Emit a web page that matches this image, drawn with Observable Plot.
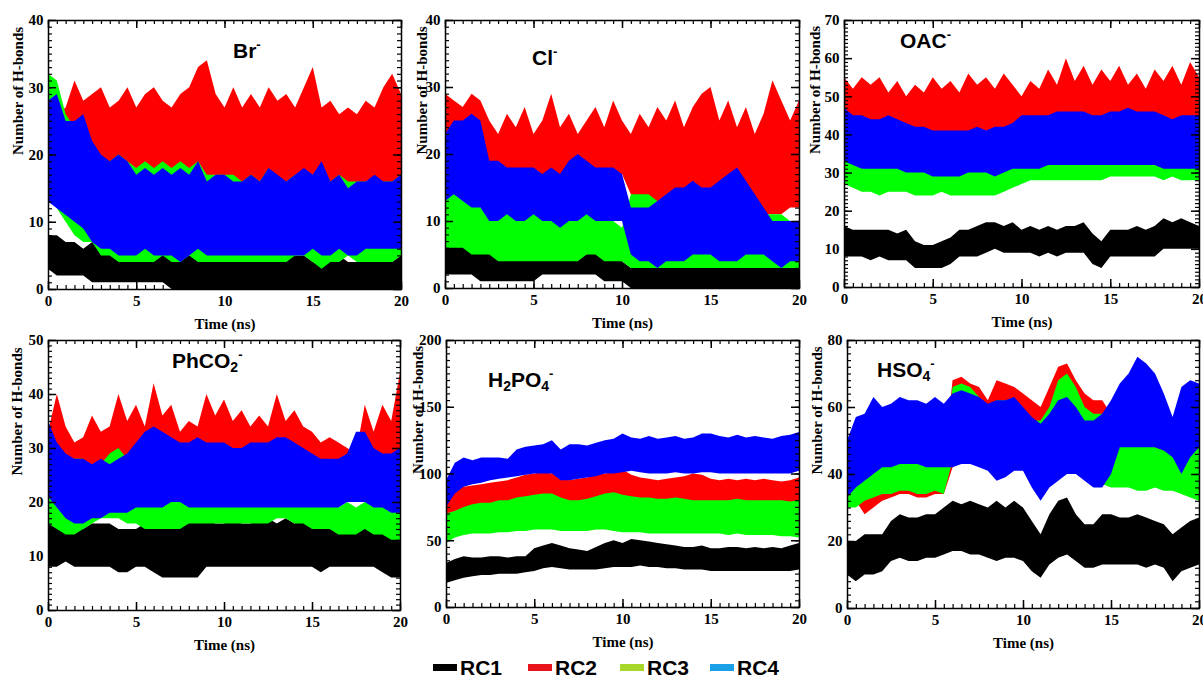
<!DOCTYPE html>
<html><head><meta charset="utf-8">
<script src="https://cdn.jsdelivr.net/npm/d3@7"></script>
<script src="https://cdn.jsdelivr.net/npm/@observablehq/plot@0.6"></script>
<style>
body{margin:0;background:#fff;}
#root{position:relative;width:1203px;height:681px;overflow:hidden;background:#fff;}
.panel{position:absolute;}
.title{position:absolute;font-family:"Liberation Sans",Arial,sans-serif;font-weight:bold;font-size:21px;line-height:1;color:#000;white-space:nowrap;}
.title sup{font-size:13px;vertical-align:baseline;position:relative;top:-9px;}
.title sub{font-size:14px;vertical-align:baseline;position:relative;top:4px;}
.legsw{position:absolute;height:7px;width:24px;}
.legtx{position:absolute;font-family:"Liberation Sans",Arial,sans-serif;font-weight:bold;font-size:21px;line-height:1;color:#000;}
</style></head>
<body><div id="root"></div>
<script>
// ---------- data ----------
const timeNs = [0,0.5,1,1.5,2,2.5,3,3.5,4,4.5,5,5.5,6,6.5,7,7.5,8,8.5,9,9.5,10,10.5,11,11.5,12,12.5,13,13.5,14,14.5,15,15.5,16,16.5,17,17.5,18,18.5,19,19.5,20];
const seriesNames = ["RC1","RC2","RC3","RC4"];
const xTicks = [0,5,10,15,20];

// Br-
const brRC1Hi = [8,8,7,7,6,7,6,6,6,6, 6,6,5,6,5,6,5,5,5,5, 5,5,4,5,5,5,4,5,5,5, 4,6,5,5,4,4,4,5,5,4, 5];
const brRC1Lo = [3,2,2,2,2,1,1,1,1,1, 1,1,1,1,0,0,0,0,0,0, 0,0,0,0,0,0,0,0,0,0, 0,0,0,0,0,0,0,0,0,0, 0];
const brRC2Hi = [24,26,27,31,28,29,30,27,28,30, 27,29,30,28,27,29,30,33,34,29, 27,30,27,29,27,30,28,29,27,30, 33,27,28,26,27,26,28,27,30,32, 29];
const brRC2Lo = [14,14,15,15,16,17,17,17,16,16, 16,16,16,16,16,16,16,16,17,16, 15,15,15,15,15,15,15,15,15,15, 15,15,15,14,14,15,15,15,15,15, 15];
const brRC3Hi = [32,31,26,24,24,20,19,19,20,19, 18,19,18,19,18,19,18,19,17,17, 17,17,16,17,16,18,16,16,17,17, 17,18,16,17,16,16,16,16,16,16, 17];
const brRC3Lo = [20,12,10,8,7,7,5,5,4,4, 4,4,4,5,4,4,5,4,4,4, 4,4,4,4,4,4,4,4,5,5, 4,3,4,4,5,4,4,4,4,4, 5];
const brRC4Hi = [28,29,25,25,26,22,20,19,20,19, 17,18,17,18,17,18,17,19,16,17, 17,16,16,17,16,18,17,16,17,18, 17,19,16,17,15,16,16,17,16,16, 17];
const brRC4Lo = [13,12,11,10,9,7,6,6,5,5, 5,6,5,5,5,4,5,6,5,5, 5,5,5,5,5,5,5,5,5,5, 6,5,5,6,5,5,6,6,6,6, 6];
const brYTicks = [0,10,20,30,40];

// Cl-
const clRC1Hi = [6,7,7,7,6,6,6,5,5,5, 5,6,6,5,6,6,5,6,5,5, 4,3,3,3,3,3,3,3,3,3, 4,3,3,3,3,3,3,3,3,3, 3];
const clRC1Lo = [2,2,2,2,1,1,1,1,1,1, 1,2,2,2,2,2,2,2,1,1, 1,0,0,0,0,0,0,0,0,0, 0,0,0,0,0,0,0,0,0,0, 0];
const clRC2Hi = [29,28,27,29,28,25,23,26,24,27, 23,25,29,24,26,23,25,27,24,28, 25,23,26,24,27,25,28,24,27,29, 30,25,28,24,27,23,26,31,28,25, 28];
const clRC2Lo = [20,20,20,20,19,18,18,17,17,17, 17,17,17,17,17,17,17,17,17,17, 17,14,13,13,13,13,13,13,13,13, 13,13,13,13,12,12,11,11,11,12, 12];
const clRC3Hi = [15,15,14,13,12,11,11,11,11,11, 11,11,11,11,11,11,11,11,10,10, 9,14,14,14,13,12,13,13,13,13, 12,12,13,14,13,12,11,11,11,10, 10];
const clRC3Lo = [6,6,6,5,5,5,4,4,4,4, 4,4,4,4,4,4,5,5,4,4, 4,3,3,3,3,3,3,3,3,3, 3,3,3,3,3,3,3,3,3,3, 3];
const clRC4Hi = [23,25,25,26,25,19,19,18,18,18, 18,17,18,17,19,20,19,18,18,18, 17,12,12,12,13,14,15,15,16,15, 15,16,17,18,16,14,12,10,10,10, 10];
const clRC4Lo = [13,14,13,12,12,10,10,11,10,10, 11,10,10,9,10,10,11,10,10,10, 10,5,4,4,3,4,4,4,5,5, 5,4,4,4,5,5,5,4,3,4, 4];
const clYTicks = [0,10,20,30,40];

// OAC-
const oacRC1Hi = [16,15,15,15,15,15,14,15,12,11, 11,12,13,15,15,16,17,17,16,17, 15,16,15,16,15,16,16,17,14,12, 15,15,15,16,15,16,18,17,18,17, 16];
const oacRC1Lo = [8,8,8,7,8,7,7,7,5,5, 5,5,6,8,8,8,9,10,9,9, 9,9,8,9,8,9,9,9,6,5, 8,8,8,8,8,8,10,10,10,10, 10];
const oacRC2Hi = [55,52,55,53,55,51,54,50,53,51, 55,52,54,51,56,53,55,52,56,53, 50,54,52,57,53,60,54,58,53,57, 54,58,53,56,52,57,54,58,53,59, 55];
const oacRC2Lo = [45,44,44,43,43,42,42,42,40,39, 39,39,40,40,39,39,41,40,42,41, 42,44,44,44,45,45,45,45,44,44, 44,44,45,45,44,43,42,42,42,43, 44];
const oacRC3Hi = [36,35,34,34,33,34,33,33,33,32, 33,33,32,32,32,32,32,32,33,33, 34,34,34,34,35,35,35,35,35,36, 36,36,36,36,35,35,35,35,35,35, 35];
const oacRC3Lo = [27,26,25,25,24,25,25,25,24,24, 24,25,24,24,24,24,24,24,25,26, 27,28,28,28,28,28,28,28,28,28, 29,29,29,29,29,29,28,29,28,28, 28];
const oacRC4Hi = [47,45,45,44,44,45,44,43,42,42, 41,41,41,41,41,42,41,42,42,43, 45,45,45,45,46,46,46,46,45,45, 46,46,47,46,46,46,45,44,45,45, 45];
const oacRC4Lo = [33,32,31,31,31,31,31,30,30,30, 29,29,29,29,30,30,30,29,30,31, 31,31,31,32,32,32,32,32,32,32, 32,32,32,32,32,32,31,31,31,31, 31];
const oacYTicks = [0,10,20,30,40,50,60,70];

// PhCO2-
const phRC1Hi = [16,17,16,16,15,16,16,16,15,15, 15,16,16,17,16,17,16,17,17,16, 16,17,16,16,17,17,16,17,16,17, 16,16,17,16,16,16,15,16,15,14, 13];
const phRC1Lo = [8,8,9,8,8,8,8,8,7,7, 8,8,7,6,6,6,6,6,8,8, 8,8,8,8,8,8,8,8,8,8, 8,7,8,8,8,8,8,8,7,6, 6];
const phRC2Hi = [33,40,34,31,32,36,33,34,40,35, 38,34,42,36,38,33,35,34,40,36, 39,35,37,34,36,34,40,35,37,34, 33,31,32,31,30,29,38,33,38,35, 44];
const phRC2Lo = [28,27,26,25,24,25,26,26,27,28, 28,28,29,28,28,28,28,28,28,28, 28,28,28,28,28,28,28,28,28,28, 27,27,27,27,27,27,28,28,28,28, 28];
const phRC3Hi = [25,22,24,28,28,26,27,29,30,28, 24,23,25,24,23,22,21,21,22,21, 20,20,20,21,21,21,22,22,22,22, 21,21,20,19,20,19,20,21,21,20, 20];
const phRC3Lo = [16,15,14,14,15,16,17,17,17,16, 16,15,15,15,15,15,16,16,16,16, 16,16,16,16,16,16,17,17,16,16, 15,15,15,14,14,14,15,14,14,13, 13];
const phRC4Hi = [35,31,29,28,28,27,28,27,28,29, 31,33,34,33,32,31,31,32,31,31, 31,30,30,31,31,31,32,32,31,30, 29,28,28,28,29,33,33,30,29,29, 30];
const phRC4Lo = [21,19,17,16,16,17,17,18,18,18, 19,19,19,19,20,20,19,19,19,19, 19,19,19,19,19,19,19,19,19,19, 19,19,19,19,20,20,20,19,19,18, 18];
const phYTicks = [0,10,20,30,40,50];

// H2PO4-
const hpRC1Hi = [33,36,38,37,37,38,38,37,38,38, 44,46,48,46,44,43,42,45,48,50, 48,51,50,49,48,47,46,45,45,46, 44,44,45,45,44,45,44,45,44,46, 48];
const hpRC1Lo = [18,20,22,23,24,24,25,25,25,26, 27,29,30,29,28,28,28,28,29,30, 30,30,31,30,30,29,29,28,28,28, 27,27,27,27,27,27,27,27,27,27, 28];
const hpRC2Hi = [85,88,90,91,92,93,94,95,97,99, 100,101,100,97,95,96,97,99,100,101, 103,99,97,96,95,96,97,98,100,99, 96,95,96,95,96,95,96,95,94,95, 97];
const hpRC2Lo = [68,72,73,74,75,76,77,78,79,80, 80,80,80,78,78,78,79,80,80,79, 78,77,76,75,75,74,74,74,73,73, 72,72,72,72,72,72,72,72,72,72, 72];
const hpRC3Hi = [70,72,75,77,78,78,80,80,82,83, 84,85,85,82,80,80,81,83,85,86, 84,83,82,82,81,81,82,81,80,80, 80,80,80,81,80,80,80,80,80,79, 80];
const hpRC3Lo = [48,52,54,55,55,55,56,56,57,57, 58,58,58,57,57,57,57,58,58,57, 56,56,56,55,55,55,55,55,55,55, 55,55,54,55,54,54,54,54,53,53, 52];
const hpRC4Hi = [95,108,112,110,112,112,112,111,118,120, 121,122,125,118,122,122,121,123,125,126, 130,127,126,128,126,127,128,126,127,130, 130,128,127,129,127,128,127,126,128,129, 131];
const hpRC4Lo = [75,85,90,92,93,95,96,97,98,99, 100,100,100,95,95,96,97,98,100,100, 101,102,101,100,100,100,101,100,100,101, 101,100,100,100,100,100,100,100,100,100, 102];
const hpYTicks = [0,50,100,150,200];

// HSO4-
const hsRC1Hi = [20,20,22,22,22,26,28,27,27,28, 28,30,32,31,32,31,30,32,30,32, 30,26,22,28,32,33,28,25,25,28, 28,27,27,28,27,26,25,22,24,26, 27];
const hsRC1Lo = [10,8,10,10,11,14,15,14,14,15, 15,16,17,17,16,16,15,14,15,15, 14,11,9,13,15,16,14,12,12,13, 13,13,13,13,12,13,12,8,11,12, 13];
const hsRC2Hi = [40,42,40,44,42,40,40,42,42,42, 44,44,68,69,67,66,62,68,67,66, 64,62,60,66,72,73,68,64,62,62, 58,54,55,55,55,55,54,55,56,54, 53];
const hsRC2Lo = [30,32,28,30,32,33,34,34,33,33, 34,34,42,44,45,44,42,40,42,44, 44,38,36,40,42,44,44,42,40,40, 40,40,40,40,40,40,40,40,40,40, 40];
const hsRC3Hi = [45,44,45,47,46,44,45,46,45,44, 45,45,66,67,66,63,60,62,62,61, 58,56,56,60,68,70,66,60,58,58, 50,50,49,48,50,48,47,48,50,46, 48];
const hsRC3Lo = [30,30,32,33,34,34,35,35,34,34, 35,34,44,45,46,45,44,42,43,45, 44,38,34,38,40,42,42,40,38,37, 36,36,36,35,35,36,35,35,34,33, 32];
const hsRC4Hi = [50,57,58,63,60,61,63,62,62,61, 63,61,64,65,64,63,61,62,62,63, 60,57,55,58,62,63,60,56,56,58, 62,67,70,75,73,70,64,57,66,68, 67];
const hsRC4Lo = [33,36,38,40,42,42,43,43,43,42, 42,42,42,43,43,42,41,38,39,41, 41,36,32,36,38,40,40,38,36,36, 40,48,48,48,48,48,47,45,40,45, 48];
const hsYTicks = [0,20,40,60,80];

const seriesColors = ["#000000","#ff0000","#00ff00","#0000ff"];
const legendColors = ["#000000","#e8141c","#a6d72a","#1aa0e6"];

// ---------- layout ----------
const ML = 50, MR = 10, MT = 20, MB = 46;
const panels = [
  {title:["Br","","-"], lo:[brRC1Lo,brRC2Lo,brRC3Lo,brRC4Lo], hi:[brRC1Hi,brRC2Hi,brRC3Hi,brRC4Hi], yTicks:brYTicks, fx0:48, fx1:401, fy0:20, fy1:289, tx:233, ty:40, labDx:-30},
  {title:["Cl","","-"], lo:[clRC1Lo,clRC2Lo,clRC3Lo,clRC4Lo], hi:[clRC1Hi,clRC2Hi,clRC3Hi,clRC4Hi], yTicks:clYTicks, fx0:445, fx1:799, fy0:20, fy1:288, tx:532, ty:47, labDx:-23},
  {title:["OAC","","-"], lo:[oacRC1Lo,oacRC2Lo,oacRC3Lo,oacRC4Lo], hi:[oacRC1Hi,oacRC2Hi,oacRC3Hi,oacRC4Hi], yTicks:oacYTicks, fx0:844, fx1:1199, fy0:20, fy1:287, tx:900, ty:30, labDx:-29},
  {title:["PhCO","2","-"], lo:[phRC1Lo,phRC2Lo,phRC3Lo,phRC4Lo], hi:[phRC1Hi,phRC2Hi,phRC3Hi,phRC4Hi], yTicks:phYTicks, fx0:48, fx1:400, fy0:340, fy1:610, tx:172, ty:350, labDx:-31},
  {title:["H","2","PO","4","-"], lo:[hpRC1Lo,hpRC2Lo,hpRC3Lo,hpRC4Lo], hi:[hpRC1Hi,hpRC2Hi,hpRC3Hi,hpRC4Hi], yTicks:hpYTicks, fx0:446, fx1:799, fy0:340, fy1:607, tx:488, ty:369, labDx:-28},
  {title:["HSO","4","-"], lo:[hsRC1Lo,hsRC2Lo,hsRC3Lo,hsRC4Lo], hi:[hsRC1Hi,hsRC2Hi,hsRC3Hi,hsRC4Hi], yTicks:hsYTicks, fx0:847, fx1:1199, fy0:340, fy1:608, tx:877, ty:359, labDx:-30}
];

const root = document.getElementById("root");

function titleHTML(parts){
  let h = "";
  for (let i = 0; i < parts.length - 1; i++) {
    if (!parts[i]) continue;
    h += (i % 2 === 0) ? parts[i] : "<sub>" + parts[i] + "</sub>";
  }
  return h + "<sup>" + parts[parts.length - 1] + "</sup>";
}

panels.forEach(p => {
  const ymax = p.yTicks[p.yTicks.length - 1];
  const yStep = p.yTicks[1] - p.yTicks[0];
  const yMinor = d3.range(0, ymax + 1e-9, yStep / 10);
  const xMinor = d3.range(0, 20 + 1e-9, 0.5);
  const fw = p.fx1 - p.fx0, fh = p.fy1 - p.fy0;
  const minorLen = 4, majorLen = 8;
  const marks = [];
  seriesNames.forEach((name, k) => {
    const rows = timeNs.map((t, i) => ({t, lo: p.lo[k][i], hi: p.hi[k][i], series: name}));
    marks.push(Plot.areaY(rows, {x: "t", y1: "lo", y2: "hi", fill: seriesColors[k], curve: "linear"}));
  });
  marks.push(
    // inward ticks on all four sides
    Plot.tickX(xMinor, {x: d => d, insetTop: fh - minorLen, stroke: "#000", strokeWidth: 1.2}),
    Plot.tickX(xMinor, {x: d => d, insetBottom: fh - minorLen, stroke: "#000", strokeWidth: 1.2}),
    Plot.tickX(xTicks, {x: d => d, insetTop: fh - majorLen, stroke: "#000", strokeWidth: 1.5}),
    Plot.tickX(xTicks, {x: d => d, insetBottom: fh - majorLen, stroke: "#000", strokeWidth: 1.5}),
    Plot.tickY(yMinor, {y: d => d, insetRight: fw - minorLen, stroke: "#000", strokeWidth: 1.2}),
    Plot.tickY(yMinor, {y: d => d, insetLeft: fw - minorLen, stroke: "#000", strokeWidth: 1.2}),
    Plot.tickY(p.yTicks, {y: d => d, insetRight: fw - majorLen, stroke: "#000", strokeWidth: 1.5}),
    Plot.tickY(p.yTicks, {y: d => d, insetLeft: fw - majorLen, stroke: "#000", strokeWidth: 1.5}),
    Plot.axisX(xTicks, {anchor: "bottom", tickSize: 0, tickPadding: 6, tickFormat: d => d, label: null}),
    Plot.axisY(p.yTicks, {anchor: "left", tickSize: 0, tickPadding: 5, tickFormat: d => d, label: null}),
    Plot.frame({stroke: "#000", strokeWidth: 1.5}),
    Plot.text(["Time (ns)"], {frameAnchor: "bottom", dy: 39, text: d => d, fontSize: 15, fontWeight: "bold"}),
    Plot.text(["Number of H-bonds"], {frameAnchor: "left", dx: p.labDx, rotate: -90, text: d => d, fontSize: 15, fontWeight: "bold"})
  );
  const W = fw + ML + MR, H = fh + MT + MB;
  const svg = Plot.plot({
    width: W, height: H,
    marginLeft: ML, marginRight: MR, marginTop: MT, marginBottom: MB,
    x: {domain: [0, 20]},
    y: {domain: [0, ymax]},
    style: {fontFamily: "'Liberation Serif','Times New Roman',serif", fontSize: "15px", fontWeight: "bold", background: "transparent", color: "#000", overflow: "visible"},
    marks
  });
  svg.classList.add("panel");
  svg.style.left = (p.fx0 - ML) + "px";
  svg.style.top = (p.fy0 - MT) + "px";
  root.appendChild(svg);

  const t = document.createElement("div");
  t.className = "title";
  t.style.left = p.tx + "px";
  t.style.top = p.ty + "px";
  t.innerHTML = titleHTML(p.title);
  root.appendChild(t);
});

// legend
const legendX = [433, 528, 620, 710];
seriesNames.forEach((name, k) => {
  const sw = document.createElement("div");
  sw.className = "legsw";
  sw.style.left = legendX[k] + "px";
  sw.style.top = "664px";
  sw.style.background = legendColors[k];
  root.appendChild(sw);
  const tx = document.createElement("div");
  tx.className = "legtx";
  tx.style.left = (legendX[k] + 27) + "px";
  tx.style.top = "657px";
  tx.textContent = name;
  root.appendChild(tx);
});
</script>
</body></html>
